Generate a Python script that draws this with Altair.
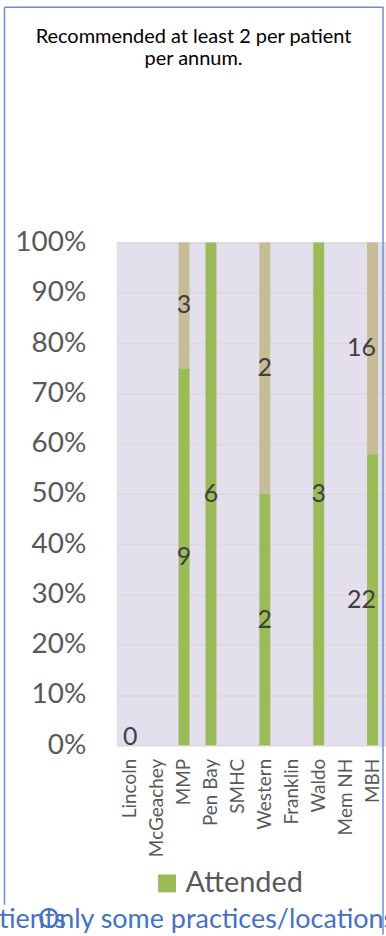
import altair as alt
import pandas as pd

# Attendance counts per practice / location (None = no data reported)
categories = ["Lincoln", "McGeachey", "MMP", "Pen Bay", "SMHC",
              "Western", "Franklin", "Waldo", "Mem NH", "MBH"]
attended = [0, None, 9, 6, None, 2, None, 3, None, 22]
not_attended = [None, None, 3, None, None, 2, None, None, None, 16]
series_names = ["Attended", "Not attended"]
series_colors = ["#9BBB59", "#C4BD97"]

title_lines = ["Recommended at least 2 per patient", "per annum."]
footer_left = "tients"
footer_main = "Only some practices/locations"
pct_ticks = [0, 0.1, 0.2, 0.3, 0.4, 0.5, 0.6, 0.7, 0.8, 0.9, 1.0]

# Build 100%-stacked segments
rows = []
for cat, a, n in zip(categories, attended, not_attended):
    parts = [(s, v) for s, v in zip(series_names, (a, n)) if v is not None]
    total = sum(v for _, v in parts)
    lo = 0.0
    for s, v in parts:
        frac = v / total if total else 0.0
        rows.append(dict(category=cat, series=s, value=v,
                         start=lo, end=lo + frac, mid=lo + frac / 2))
        lo += frac
df = pd.DataFrame(rows)

FONT = "Lato"
W, H = 270, 504
LEFT, TOP = 117, 242

x_enc = alt.X(
    "category:N",
    sort=categories,
    scale=alt.Scale(domain=categories, paddingInner=0, paddingOuter=0),
    axis=alt.Axis(title=None, labelAngle=270, labelAlign="right",
                  labelBaseline="middle", labelFontSize=19, labelFont=FONT,
                  labelColor="#595959", labelPadding=13, ticks=False,
                  domain=False),
)
y_scale = alt.Scale(domain=[0, 1])

bars = alt.Chart(df).mark_bar(size=11).encode(
    x=x_enc,
    y=alt.Y("start:Q", scale=y_scale,
            axis=alt.Axis(title=None, format="%", values=pct_ticks,
                          labelFontSize=28, labelFont=FONT,
                          labelColor="#595959", labelPadding=31,
                          ticks=False, domain=False,
                          gridColor="#D9D9D9", gridWidth=1.5)),
    y2="end:Q",
    color=alt.Color(
        "series:N",
        scale=alt.Scale(domain=series_names, range=series_colors),
        legend=alt.Legend(values=["Attended"], orient="none",
                          legendX=36, legendY=628, title=None,
                          symbolType="square", symbolSize=324,
                          symbolStrokeWidth=0, labelFontSize=29,
                          labelFont=FONT, labelColor="#595959",
                          labelOffset=4, padding=0),
    ),
)

labels_mid = alt.Chart(df).mark_text(
    font=FONT, fontSize=25, color="#404040", baseline="middle"
).transform_filter(
    "datum.value > 0 && datum.category != 'MBH'"
).encode(x=alt.X("category:N", sort=categories), y=alt.Y("mid:Q"),
         text="value:Q")
labels_edge = alt.Chart(df).mark_text(
    font=FONT, fontSize=25, color="#404040", baseline="middle", dx=-11
).transform_filter("datum.value > 0 && datum.category == 'MBH'").encode(
    x=alt.X("category:N", sort=categories), y=alt.Y("mid:Q"), text="value:Q")
labels_zero = alt.Chart(df).mark_text(
    font=FONT, fontSize=25, color="#404040", baseline="middle", dy=-8
).transform_filter("datum.value == 0").encode(
    x=alt.X("category:N", sort=categories), y=alt.Y("mid:Q"), text="value:Q")

one = pd.DataFrame({"k": [0]})

title1 = alt.Chart(one).mark_text(
    font=FONT, fontSize=20, color="#000000", align="center",
    baseline="alphabetic"
).encode(x=alt.value(194 - LEFT), y=alt.value(42 - TOP),
         text=alt.value(title_lines[0]))
title2 = alt.Chart(one).mark_text(
    font=FONT, fontSize=20, color="#000000", align="center",
    baseline="alphabetic"
).encode(x=alt.value(194 - LEFT), y=alt.value(64 - TOP),
         text=alt.value(title_lines[1]))

foot1 = alt.Chart(one).mark_text(
    font=FONT, fontSize=27, color="#4472C4", align="left",
    baseline="alphabetic"
).encode(x=alt.value(-1 - LEFT), y=alt.value(929 - TOP),
         text=alt.value(footer_left))
foot2 = alt.Chart(one).mark_text(
    font=FONT, fontSize=27, color="#4472C4", align="left",
    baseline="alphabetic"
).encode(x=alt.value(38 - LEFT), y=alt.value(929 - TOP),
         text=alt.value(footer_main))

# Frame around the slide panel
BORDER = "#6C8ECF"
frame_left = alt.Chart(one).mark_rule(color=BORDER, strokeWidth=1.5).encode(
    x=alt.value(4.5 - LEFT), y=alt.value(6 - TOP), y2=alt.value(906 - TOP))
frame_top = alt.Chart(one).mark_rule(color=BORDER, strokeWidth=1.5).encode(
    x=alt.value(4.5 - LEFT), x2=alt.value(384.5 - LEFT), y=alt.value(6 - TOP))
frame_right = alt.Chart(one).mark_rule(color=BORDER, strokeWidth=1.5).encode(
    x=alt.value(384 - LEFT), y=alt.value(6 - TOP), y2=alt.value(936 - TOP))

chart = alt.layer(
    bars, labels_mid, labels_edge, labels_zero,
    title1, title2, foot1, foot2, frame_left, frame_top, frame_right,
).properties(
    width=W, height=H,
    autosize=alt.AutoSizeParams(type="none"),
    padding={"left": LEFT, "top": TOP, "right": 0, "bottom": 936 - TOP - H},
    background="#FFFFFF",
).configure_view(
    fill="#E4DFEC", stroke=None
)

chart.save("out.html", embed_options={"renderer": "svg", "actions": False})
